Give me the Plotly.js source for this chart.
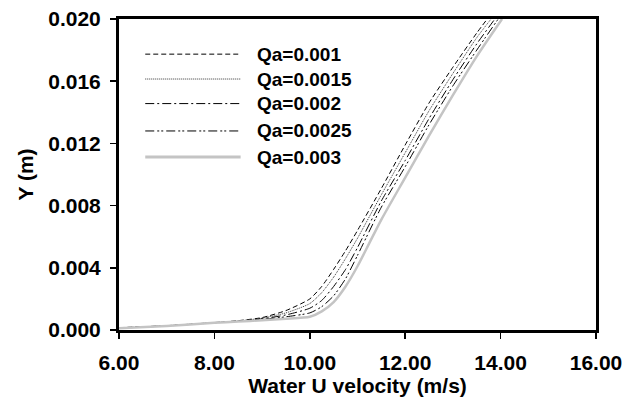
<!DOCTYPE html>
<html>
<head>
<meta charset="utf-8">
<script src="https://cdn.plot.ly/plotly-3.0.1.min.js"></script>
<style>
  html, body { margin: 0; padding: 0; background: #fff; }
  #chart { width: 637px; height: 401px; }
</style>
</head>
<body>
<div id="chart"></div>
<script>
// Velocity profiles Y(U) for five air flow rates Qa
const seriesNames = ["Qa=0.001", "Qa=0.0015", "Qa=0.002", "Qa=0.0025", "Qa=0.003"];

const u_q1 = [6.0, 7.0, 8.0, 8.5, 9.0, 9.5, 10.0, 10.25, 10.5, 10.75, 11.0, 11.5, 12.0, 12.5, 13.0, 13.5, 13.72];
const y_q1 = [0.00015, 0.00028, 0.00048, 0.0006, 0.0008, 0.00125, 0.002, 0.0028, 0.0039, 0.0051, 0.0064, 0.0091, 0.0119, 0.0146, 0.0169, 0.0191, 0.0200];

const u_q2 = [6.0, 7.0, 8.0, 8.5, 9.0, 9.5, 10.0, 10.25, 10.5, 10.75, 11.0, 11.5, 12.0, 12.5, 13.0, 13.5, 13.8];
const y_q2 = [0.00014, 0.00027, 0.00047, 0.00058, 0.00076, 0.0011, 0.0017, 0.0024, 0.0034, 0.0046, 0.0059, 0.0087, 0.0114, 0.0141, 0.0165, 0.0188, 0.0200];

const u_q3 = [6.0, 7.0, 8.0, 8.5, 9.0, 9.5, 10.0, 10.25, 10.5, 10.75, 11.0, 11.5, 12.0, 12.5, 13.0, 13.5, 13.88];
const y_q3 = [0.00013, 0.00027, 0.00047, 0.00057, 0.00072, 0.00097, 0.0014, 0.0019, 0.0028, 0.0039, 0.0053, 0.0083, 0.0109, 0.0136, 0.0161, 0.0184, 0.0200];

const u_q4 = [6.0, 7.0, 8.0, 8.5, 9.0, 9.5, 10.0, 10.25, 10.5, 10.75, 11.0, 11.5, 12.0, 12.5, 13.0, 13.5, 13.95];
const y_q4 = [0.00012, 0.00026, 0.00046, 0.00055, 0.00068, 0.00085, 0.0011, 0.0015, 0.0022, 0.0033, 0.0048, 0.0079, 0.0105, 0.0132, 0.0157, 0.0180, 0.0200];

const u_q5 = [6.0, 7.0, 8.0, 8.5, 9.0, 9.5, 10.0, 10.25, 10.5, 10.75, 11.0, 11.25, 11.5, 12.0, 12.5, 13.0, 13.5, 14.03];
const y_q5 = [0.00012, 0.00026, 0.00046, 0.00054, 0.00063, 0.00072, 0.00085, 0.0012, 0.0018, 0.0028, 0.0041, 0.0056, 0.0071, 0.0098, 0.0125, 0.0151, 0.0176, 0.0200];

const xTicks = [6, 8, 10, 12, 14, 16];
const yTicks = [0, 0.004, 0.008, 0.012, 0.016, 0.020];

const styles = [
  { color: "#000000", width: 1, dash: "5px,3px" },
  { color: "#333333", width: 1, dash: "1px,1px" },
  { color: "#000000", width: 1, dash: "9px,3px,2px,3px" },
  { color: "#000000", width: 1, dash: "9px,3px,2px,2px,2px,3px" },
  { color: "#c4c4c4", width: 2.5, dash: "solid" }
];

const xs = [u_q1, u_q2, u_q3, u_q4, u_q5];
const ys = [y_q1, y_q2, y_q3, y_q4, y_q5];

const traces = seriesNames.map((name, i) => ({
  type: "scatter",
  mode: "lines",
  name: name,
  x: xs[i],
  y: ys[i],
  line: { color: styles[i].color, width: styles[i].width, dash: styles[i].dash, shape: "spline", smoothing: 0.6 },
  showlegend: false
}));

// Legend keys drawn as long line samples with bold labels
const keyRows = [0.887, 0.807, 0.728, 0.64, 0.556];
const labelFont = { family: "Liberation Sans, Arial, sans-serif", size: 19, color: "#000" };
const titleFont = { family: "Liberation Sans, Arial, sans-serif", size: 21, color: "#000" };
const tickFont = { family: "Liberation Sans, Arial, sans-serif", size: 21, color: "#000", weight: "bold" };

const shapes = [];
const annotations = [];
seriesNames.forEach((name, i) => {
  shapes.push({
    type: "line", xref: "paper", yref: "paper",
    x0: 0.055, x1: 0.255, y0: keyRows[i], y1: keyRows[i],
    line: { color: styles[i].color, width: i === 4 ? 3 : 1, dash: styles[i].dash }
  });
  annotations.push({
    xref: "paper", yref: "paper", x: 0.285, y: keyRows[i],
    xanchor: "left", yanchor: "middle", showarrow: false,
    text: "<b>" + name + "</b>",
    font: labelFont
  });
});

// Vertical axis title placed beside the tick labels
annotations.push({
  xref: "paper", yref: "paper", x: -0.197, y: 0.5,
  xanchor: "center", yanchor: "middle", showarrow: false,
  textangle: -90, text: "<b>Y (m)</b>", font: titleFont
});

const layout = {
  width: 637, height: 401,
  margin: { l: 119, r: 41, t: 19, b: 71 },
  paper_bgcolor: "#fff", plot_bgcolor: "#fff",
  showlegend: false,
  font: { family: "Liberation Sans, Arial, sans-serif", color: "#000" },
  xaxis: {
    range: [6, 16], tickvals: xTicks, tickformat: ".2f",
    showgrid: false, zeroline: false,
    showline: true, linecolor: "#000", linewidth: 3, mirror: true,
    ticks: "outside", ticklen: 6, tickwidth: 1.5, tickcolor: "#000",
    ticklabelstandoff: 6,
    tickfont: tickFont,
    title: { text: "<b>Water U velocity (m/s)</b>", font: titleFont, standoff: 0 }
  },
  yaxis: {
    range: [0, 0.020], tickvals: yTicks, tickformat: ".3f",
    showgrid: false, zeroline: false,
    showline: true, linecolor: "#000", linewidth: 3, mirror: true,
    ticks: "outside", ticklen: 6, tickwidth: 1.5, tickcolor: "#000",
    ticklabelstandoff: 5,
    tickfont: tickFont
  },
  shapes: shapes,
  annotations: annotations
};

Plotly.newPlot("chart", traces, layout, { displayModeBar: false, staticPlot: true });
</script>
</body>
</html>
